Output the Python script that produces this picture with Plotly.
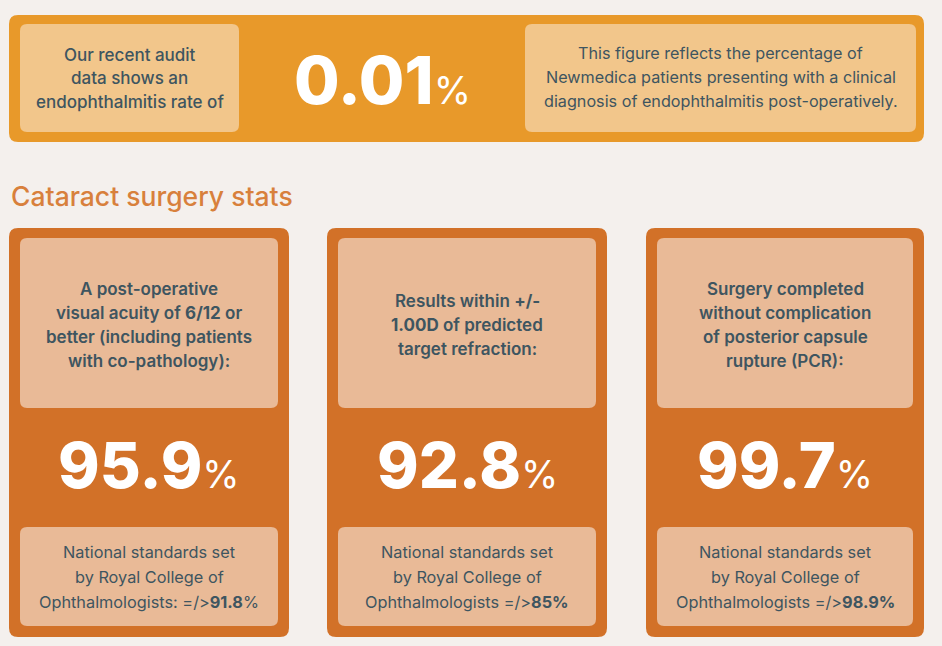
import plotly.graph_objects as go

# ---- data ----
endo_rate = "0.01"
endo_left_lines = ["Our recent audit", "data shows an", "endophthalmitis rate of"]
endo_right_lines = ["This figure reflects the percentage of",
                    "Newmedica patients presenting with a clinical",
                    "diagnosis of endophthalmitis post-operatively."]
section_title = "Cataract surgery stats"

stat_values = ["95.9", "92.8", "99.7"]
stat_desc = [
    ["A post-operative", "visual acuity of <b>6/12</b> or", "better (including patients", "with co-pathology):"],
    ["Results within <b>+/-</b>", "<b>1.00D</b> of predicted", "target refraction:"],
    ["Surgery completed", "without complication", "of posterior capsule", "rupture (PCR):"],
]
standard_values = ["91.8", "85", "98.9"]
standard_lines = [
    ["National standards set", "by Royal College of", "Ophthalmologists: =/><b>91.8</b>%"],
    ["National standards set", "by Royal College of", "Ophthalmologists =/><b>85%</b>"],
    ["National standards set", "by Royal College of", "Ophthalmologists =/><b>98.9%</b>"],
]

# ---- style ----
BG = "#F4F0ED"
BANNER = "#E8992A"
BANNER_IN = "#F2C68B"
CARD = "#D27128"
CARD_IN = "#E9BA97"
TXT = "#3E5560"
TITLE = "#D8803C"
FONT = "Inter"


def rrect(x0, y0, x1, y1, r):
    return (f"M{x0+r},{y0} L{x1-r},{y0} Q{x1},{y0} {x1},{y0+r} "
            f"L{x1},{y1-r} Q{x1},{y1} {x1-r},{y1} L{x0+r},{y1} "
            f"Q{x0},{y1} {x0},{y1-r} L{x0},{y0+r} Q{x0},{y0} {x0+r},{y0} Z")


shapes = []
ann = []


def box(x0, y0, x1, y1, r, color):
    shapes.append(dict(type="path", path=rrect(x0, y0, x1, y1, r), xref="x", yref="y",
                       fillcolor=color, line=dict(width=0), layer="below"))


def lines(xc, yc, texts, size, spacing, weight=400, color=TXT):
    n = len(texts)
    for i, t in enumerate(texts):
        y = yc + (i - (n - 1) / 2) * spacing
        ann.append(dict(x=xc, y=y, xref="x", yref="y", text=t, showarrow=False,
                        xanchor="center", yanchor="middle",
                        font=dict(family=FONT, size=size, color=color, weight=weight)))


# banner
box(9, 15, 924, 142, 9, BANNER)
box(20, 24, 239, 132, 7, BANNER_IN)
box(525, 24, 916, 132, 7, BANNER_IN)
lines(129.5, 78, endo_left_lines, 17, 23.5, weight=500)
lines(720.5, 77, endo_right_lines, 16.2, 24, weight=400)
ann.append(dict(x=382, y=80, xref="x", yref="y", showarrow=False, xanchor="center", yanchor="middle",
                text=endo_rate + "<span style='font-size:38px;font-weight:400'>%</span>",
                font=dict(family=FONT, size=66, color="white", weight=800)))

# title
ann.append(dict(x=9, y=196, xref="x", yref="y", showarrow=False, xanchor="left", yanchor="middle",
                text=section_title, font=dict(family=FONT, size=26.5, color=TITLE, weight=500)))

# cards
card_x = [(9, 289), (327, 607), (646, 924)]
for i, (x0, x1) in enumerate(card_x):
    xc = (x0 + x1) / 2
    box(x0, 228, x1, 637, 9, CARD)
    box(x0 + 11, 238, x1 - 11, 408, 7, CARD_IN)
    box(x0 + 11, 527, x1 - 11, 626, 7, CARD_IN)
    lines(xc, 325, stat_desc[i], 17, 24.3, weight=600)
    ann.append(dict(x=xc, y=465, xref="x", yref="y", showarrow=False, xanchor="center", yanchor="middle",
                    text=stat_values[i] + "<span style='font-size:38px;font-weight:400'>%</span>",
                    font=dict(family=FONT, size=63, color="white", weight=800)))
    lines(xc, 577, standard_lines[i], 16.3, 25, weight=400)

fig = go.Figure()
fig.update_layout(
    width=942, height=646, margin=dict(l=0, r=0, t=0, b=0),
    paper_bgcolor=BG, plot_bgcolor=BG,
    xaxis=dict(range=[0, 942], visible=False, fixedrange=True),
    yaxis=dict(range=[646, 0], visible=False, fixedrange=True),
    shapes=shapes, annotations=ann, showlegend=False,
)
fig.write_html("out.html", config={"displayModeBar": False},
               post_script="document.body.style.margin='0';document.body.style.background='#F4F0ED';")
